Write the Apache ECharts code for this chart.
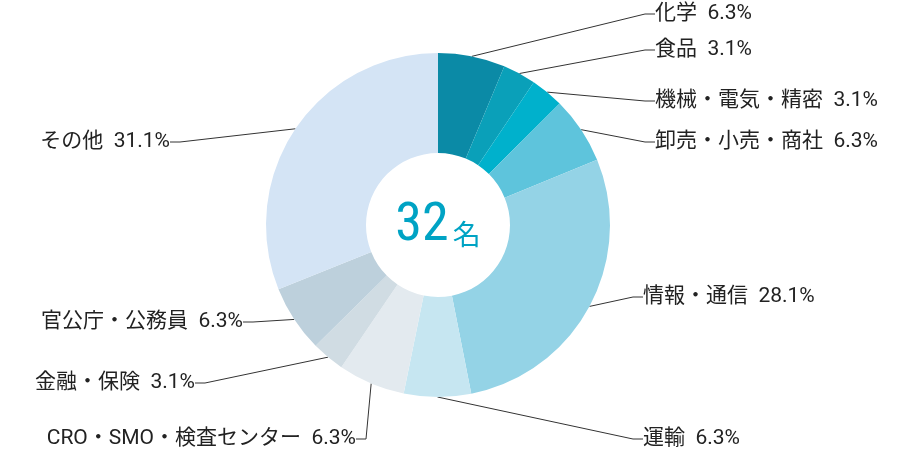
<!DOCTYPE html>
<html><head><meta charset="utf-8">
<script src="https://cdn.jsdelivr.net/npm/echarts@6/dist/echarts.min.js"></script>
<style>html,body{margin:0;padding:0;background:#fff}#c{width:900px;height:454px}</style>
</head><body><div id="c"></div>
<script>
const categories = ['化学','食品','機械・電気・精密','卸売・小売・商社','情報・通信','運輸','CRO・SMO・検査センター','金融・保険','官公庁・公務員','その他'];
const values = [6.3,3.1,3.1,6.3,28.1,6.3,6.3,3.1,6.3,31.1];
const colors = ['#0b8aa6','#0aa0b9','#00b1cc','#5ec4dc','#94d3e6','#c6e6f1','#e3eaef','#d0dce3','#bdd0dc','#d4e4f5'];
const totalLabel = '32';
const unitLabel = '名';
const labelPos = [
 [645,14,'left'],[645,50,'left'],[645,101,'left'],[645,142,'left'],[633,297,'left'],
 [633,439,'left'],[366,439,'right'],[205,383,'right'],[253,322,'right'],[180,142,'right']
];
const chart = echarts.init(document.getElementById('c'));
chart.setOption({
  animation:false,
  graphic:[{type:'text',x:438,y:226,
    style:{align:'center',verticalAlign:'middle',fill:'#00a3c4',
      rich:{a:{fontSize:54,fontFamily:'Roboto Condensed, Roboto',fill:'#00a3c4',color:'#00a3c4'},
            b:{fontSize:28,fontFamily:'Noto Sans CJK JP',fill:'#00a3c4',color:'#00a3c4',padding:[16,0,0,4]}},
      text:'{a|'+totalLabel+'}{b|'+unitLabel+'}'}}],
  series:[{
    type:'pie', center:[438,225], radius:[72,172], startAngle:90, clockwise:true,
    silent:true,
    data:categories.map((n,i)=>({name:n,value:values[i],itemStyle:{color:colors[i]}})),
    label:{show:true,formatter:p=>p.name+'  '+p.value.toFixed(1)+'%',fontSize:21,color:'#222',
      fontFamily:'Roboto, "Noto Sans CJK JP"',padding:[0,10,0,10]},
    labelLine:{show:true,lineStyle:{color:'#333',width:1},length:10,length2:10},
    labelLayout:p=>{const q=labelPos[p.dataIndex];return {x:q[0],y:q[1],align:q[2],verticalAlign:'middle'};}
  }]
});
</script></body></html>
